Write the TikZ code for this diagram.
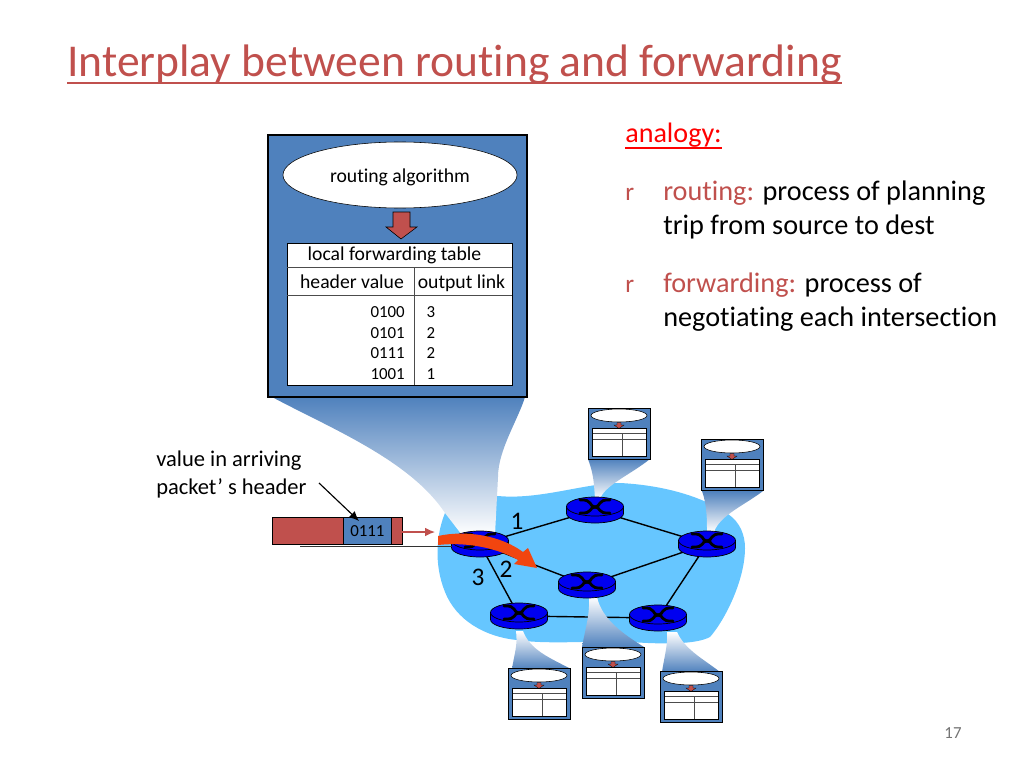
\documentclass[tikz,border=0pt]{standalone}
\usepackage{fontspec}
\setmainfont[Ligatures=NoCommon]{Carlito}
\usetikzlibrary{arrows.meta, shapes.geometric}

\definecolor{slidered}{HTML}{C0504D}
\definecolor{slideblue}{HTML}{4F81BD}
\definecolor{cloudblue}{HTML}{66C6FF}
\definecolor{routerblue}{HTML}{0000F0}
\definecolor{hotarrow}{HTML}{F2450F}

\tikzset{
    link/.style={draw=black, line width=1pt},
    funnel/.style={top color=slideblue, bottom color=white, draw=none},
    funnelup/.style={top color=white, bottom color=slideblue, draw=none},
    pics/router/.style={code={
        \draw[fill=routerblue, line width=0.5pt] (-28.5,-3.5) -- (-28.5,3.5) arc[start angle=180, end angle=360, x radius=28.5, y radius=-9.5] -- (28.5,-3.5) -- cycle;
        \draw[fill=routerblue, line width=0.5pt] (0,-3.5) ellipse[x radius=28.5, y radius=9.5];
        \draw[line width=2pt, line cap=round] (-15,-10) .. controls (-2,-11) and (-6,-3) .. (0,-3) .. controls (6,-3) and (2,4) .. (15,3);
        \draw[line width=2pt, line cap=round] (15,-10) .. controls (2,-11) and (6,-3) .. (0,-3) .. controls (-6,-3) and (-2,4) .. (-15,3);
    }},
    pics/minitable/.style={code={
        \draw[fill=slideblue, line width=0.7pt] (0,0) rectangle (62,51);
        \draw[fill=white, line width=0.4pt] (31,7.5) ellipse[x radius=28, y radius=6.5];
        \draw[fill=slidered, line width=0.2pt] (29,14.5) -- (33,14.5) -- (33,17) -- (36,17) -- (31,20.5) -- (26,17) -- (29,17) -- cycle;
        \draw[fill=white, line width=0.5pt] (4.5,20) rectangle (58,48);
        \draw[black!70, line width=0.6pt] (4.5,25) -- (58,25);
        \draw[black!70, line width=0.6pt] (4.5,31) -- (58,31);
        \draw[black!70, line width=0.6pt] (34.5,25) -- (34.5,48);
    }}
}

\begin{document}
\begin{tikzpicture}[x=0.025cm, y=-0.025cm]

    \useasboundingbox (0,0) rectangle (1024,768);

    % title
    \node[anchor=base west, inner sep=0pt, text=slidered, font=\fontsize{32.4}{38}\selectfont] (title) at (67,77) {Interplay between routing and forwarding};
    \draw[slidered, line width=1.2pt] (title.west |- 0,83) -- (title.east |- 0,83);

    % analogy text
    \node[anchor=base west, inner sep=0pt, text=red, font=\fontsize{20}{24}\selectfont] (analogy) at (625,143) {analogy:};
    \draw[red, line width=0.8pt] (625,148) -- (analogy.east |- 0,148);
    \node[anchor=base west, inner sep=0pt, text=slidered, font=\fontsize{18}{22}\selectfont] (bulleta) at (625,200) {r};
    \node[anchor=base west, inner sep=0pt, font=\fontsize{20.1}{24}\selectfont] (routing) at (663,200) {\textcolor{slidered}{routing:} process of planning};
    \node[anchor=base west, inner sep=0pt, font=\fontsize{20.1}{24}\selectfont] (trip) at (663,234) {trip from source to dest};
    \node[anchor=base west, inner sep=0pt, text=slidered, font=\fontsize{18}{22}\selectfont] (bulletb) at (625,292) {r};
    \node[anchor=base west, inner sep=0pt, font=\fontsize{20.1}{24}\selectfont] (forwarding) at (663,292) {\textcolor{slidered}{forwarding:} process of};
    \node[anchor=base west, inner sep=0pt, font=\fontsize{20.1}{24}\selectfont] (negotiating) at (663,326) {negotiating each intersection};

    % page number
    \node[text=black!55, font=\fontsize{12}{14}\selectfont] (page) at (953,733) {17};

    % network cloud
    \fill[cloudblue] (445,513) .. controls (436,535) and (434,565) .. (445,592)
        .. controls (456,620) and (485,637) .. (517,640)
        .. controls (550,645) and (600,640) .. (630,642)
        .. controls (660,644) and (695,645) .. (710,637)
        .. controls (725,620) and (745,580) .. (745,548)
        .. controls (745,535) and (740,522) .. (728,514)
        .. controls (700,495) and (660,485) .. (620,483)
        .. controls (585,483) and (540,500) .. (498,496)
        -- cycle;

    % router positions
    \coordinate (left) at (480,544);
    \coordinate (top) at (595,510);
    \coordinate (right) at (707,544);
    \coordinate (mid) at (587,585);
    \coordinate (lower) at (519,616);
    \coordinate (rlow) at (658,618);

    % links
    \draw[link] (left) -- (top);
    \draw[link] (top) -- (right);
    \draw[link] (left) -- (mid);
    \draw[link] (mid) -- (right);
    \draw[link] (left) -- (lower);
    \draw[link] (lower) -- (rlow);
    \draw[link] (rlow) -- (right);

    % funnels
    \shade[funnel] (272,397) .. controls (330,428) and (410,460) .. (445,513) -- (462,535) -- (495,535) -- (498,477) .. controls (498,450) and (518,420) .. (525,397) -- cycle;
    \shade[funnel] (588,459) .. controls (594,475) and (594,485) .. (595,499) -- (600,499) .. controls (605,485) and (630,475) .. (650,459) -- cycle;
    \shade[funnel] (702,491) .. controls (707,505) and (707,520) .. (707,532) -- (714,532) .. controls (720,515) and (745,505) .. (763,491) -- cycle;
    \shade[funnelup] (589,597) -- (597,597) .. controls (602,620) and (625,635) .. (644,647) -- (582,647) .. controls (585,630) and (590,615) .. (589,597) -- cycle;
    \shade[funnelup] (516,631) -- (523,631) .. controls (530,650) and (550,658) .. (571,669) -- (512,669) .. controls (514,655) and (518,645) .. (516,631) -- cycle;
    \shade[funnelup] (667,632) -- (677,632) .. controls (685,650) and (705,660) .. (720,672) -- (662,672) .. controls (664,658) and (668,645) .. (667,632) -- cycle;

    % routers
    \foreach \r in {top, right, mid, lower, rlow, left} {
        \pic at (\r) {router};
    }

    % small tables
    \foreach \x/\y in {588/408, 701/439, 508/668, 582/647, 660/671} {
        \pic at (\x,\y) {minitable};
    }

    % big router box
    \draw[fill=slideblue, line width=1.8pt] (268,135) rectangle (527,397);
    \node[ellipse, draw, fill=white, minimum width=5.85cm, minimum height=1.65cm, inner sep=0pt, font=\fontsize{14}{17}\selectfont] (algo) at (400,175) {\raisebox{-5pt}[0pt][0pt]{routing algorithm}};
    \draw[fill=slidered, line width=0.4pt] (393,212) -- (410,212) -- (410,227) -- (417,227) -- (401,239) -- (386,227) -- (393,227) -- cycle;

    % forwarding table
    \draw[fill=white, line width=0.6pt] (287,243) rectangle (512,385);
    \draw[black!70, line width=0.7pt] (287,267) -- (512,267);
    \draw[black!70, line width=0.7pt] (287,295) -- (512,295);
    \draw[black!70, line width=0.7pt] (414,267) -- (414,385);
    \node[font=\fontsize{14}{17}\selectfont, anchor=base] (tabletitle) at (394.5,260) {local forwarding table};
    \node[font=\fontsize{14}{17}\selectfont, anchor=base] (headerval) at (352,288) {header value};
    \node[font=\fontsize{14}{17}\selectfont, anchor=base] (outlink) at (461.5,288) {output link};
    \foreach \y/\h/\o in {317/0100/3, 338/0101/2, 358/0111/2, 379/1001/1} {
        \node[font=\fontsize{12}{14}\selectfont, anchor=base east, inner sep=0pt] at (405,\y) {\h};
        \node[font=\fontsize{12}{14}\selectfont, anchor=base, inner sep=0pt] at (431,\y) {\o};
    }

    % packet
    \draw[fill=slidered, line width=0.6pt] (272,517) rectangle (402,544);
    \node[draw, fill=slideblue, line width=0.6pt, minimum width=1.2cm, minimum height=0.675cm, inner sep=0pt, anchor=north west, font=\fontsize{12}{14}\selectfont] (hdr) at (343,517) {0111};
    \coordinate (pktout) at (402,532);
    \coordinate (pktin) at (435,532);
    \draw[-{Latex[length=7pt, width=6pt]}, slidered, line width=0.8pt] (pktout) -- (pktin);
    \coordinate (under) at (300,546);
    \coordinate (underend) at (452,546);
    \draw[black!80, line width=0.7pt] (under) -- (underend);

    % header label
    \node[anchor=base west, inner sep=0pt, font=\fontsize{16}{19}\selectfont] (lblone) at (156,466) {value in arriving};
    \node[anchor=base west, inner sep=0pt, font=\fontsize{16}{19}\selectfont] (lbltwo) at (156,494) {packet’ s header};
    \coordinate (lblend) at (319,483);
    \coordinate (hdrtip) at (359,521);
    \draw[-{Latex[length=7pt, width=6pt]}, line width=0.8pt] (lblend) -- (hdrtip);

    % interface numbers
    \node[font=\fontsize{18}{21}\selectfont] (one) at (517,521) {1};
    \node[font=\fontsize{18}{21}\selectfont] (two) at (506,569) {2};
    \node[font=\fontsize{18}{21}\selectfont] (three) at (478,577) {3};

    % hot arrow
    \fill[hotarrow] (438,536) .. controls (465,530) and (500,535) .. (523,552) -- (528,548) -- (537,568) -- (514,564) -- (518,560) .. controls (495,547) and (465,542) .. (438,545) -- cycle;

\end{tikzpicture}
\end{document}
